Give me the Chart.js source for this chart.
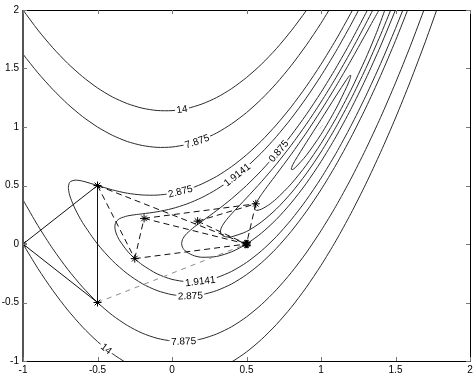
<!DOCTYPE html>
<html>
<head>
<meta charset="utf-8">
<script src="https://cdn.jsdelivr.net/npm/chart.js@4.4.0/dist/chart.umd.min.js"></script>
<style>
  html, body { margin: 0; padding: 0; background: #fff; }
</style>
</head>
<body>
<canvas id="contourChart" width="476" height="376"></canvas>
<script>
// contour lines of f(x,y) as [x, y] points
const level14Upper = [[-1,2.0],[-0.9,1.829],[-0.8,1.677],[-0.7,1.544],[-0.6,1.430],[-0.5,1.334],[-0.4,1.257],[-0.3,1.200],[-0.2,1.161],[-0.1,1.141],[0,1.140],[0.1,1.158],[0.2,1.196],[0.3,1.252],[0.4,1.328],[0.5,1.423],[0.6,1.536],[0.7,1.669],[0.8,1.822],[0.9,1.993],[1.0,2.183]];
const level14Lower = [[-1,0],[-0.9,-0.209],[-0.8,-0.397],[-0.7,-0.564],[-0.6,-0.710],[-0.5,-0.834],[-0.4,-0.937],[-0.3,-1.020],[-0.2,-1.081],[0,-1.140],[0.2,-1.116],[0.3,-1.072],[0.4,-1.008],[0.5,-0.923],[0.6,-0.816],[0.7,-0.689],[0.8,-0.542],[0.9,-0.373],[1.0,-0.183],[1.1,0.027],[1.2,0.259],[1.3,0.511],[1.4,0.784],[1.5,1.077],[1.6,1.392],[1.7,1.728],[1.8,2.084]];
const level7875Upper = [[-1,1.6225],[-0.9,1.463],[-0.8,1.321],[-0.7,1.196],[-0.6,1.089],[-0.5,1.0],[-0.4,0.929],[-0.3,0.876],[-0.2,0.842],[-0.1,0.826],[0,0.829],[0.1,0.851],[0.2,0.891],[0.3,0.949],[0.4,1.027],[0.5,1.123],[0.6,1.238],[0.7,1.372],[0.8,1.525],[0.9,1.697],[1.0,1.887],[1.1,2.097]];
const level7875Lower = [[-1,0.3775],[-0.9,0.157],[-0.8,-0.041],[-0.7,-0.216],[-0.6,-0.369],[-0.5,-0.5],[-0.4,-0.609],[-0.3,-0.696],[-0.2,-0.762],[-0.1,-0.806],[0,-0.829],[0.1,-0.831],[0.2,-0.811],[0.3,-0.769],[0.4,-0.707],[0.5,-0.623],[0.6,-0.518],[0.7,-0.392],[0.8,-0.245],[0.9,-0.077],[1.0,0.113],[1.1,0.323],[1.2,0.555],[1.3,0.808],[1.4,1.082],[1.5,1.377],[1.6,1.693],[1.7,2.031]];
const level2875 = [[1.25,2.093],[1.2,1.972],[1.1,1.745],[1.0,1.536],[0.9,1.345],[0.8,1.172],[0.7,1.018],[0.6,0.881],[0.5,0.762],[0.4,0.6615],[0.3,0.578],[0.2,0.513],[0.1,0.464],[0,0.433],[-0.1,0.418],[-0.2,0.419],[-0.3,0.434],[-0.4,0.4625],[-0.5,0.5],[-0.6,0.5375],[-0.65,0.546],[-0.68,0.535],[-0.69,0.5196],[-0.6956,0.4839],
  [-0.69,0.4326],[-0.68,0.390],[-0.65,0.299],[-0.6,0.1825],[-0.5,0],[-0.4,-0.1425],[-0.3,-0.254],[-0.2,-0.339],[-0.1,-0.398],[0,-0.433],[0.1,-0.444],[0.2,-0.433],[0.3,-0.398],[0.4,-0.3415],[0.5,-0.262],[0.6,-0.161],[0.7,-0.038],[0.8,0.108],[0.9,0.275],[1.0,0.464],[1.1,0.675],[1.2,0.908],[1.3,1.162],[1.4,1.439],[1.5,1.738],[1.6,2.059]];
const level19141 = [[1.26,2.0173],[1.2,1.8729],[1.1,1.6464],[1.0,1.4375],[0.9,1.2464],[0.8,1.0729],[0.7,0.9171],[0.6,0.7788],[0.5,0.6579],[0.4,0.5542],[0.3,0.4674],[0.2,0.3969],[0.1,0.3423],[0,0.3023],[-0.1,0.2753],[-0.2,0.2577],[-0.25,0.25],[-0.3,0.2397],[-0.35,0.2182],[-0.37,0.1979],[-0.38,0.1755],[-0.3835,0.1471],
  [-0.38,0.1133],[-0.37,0.0759],[-0.35,0.0268],[-0.3,-0.0597],[-0.25,-0.125],[-0.2,-0.1777],[-0.1,-0.2553],[0,-0.3023],[0.1,-0.3223],[0.2,-0.3169],[0.3,-0.2874],[0.4,-0.2342],[0.5,-0.1579],[0.6,-0.0588],[0.7,0.0629],[0.8,0.2071],[0.9,0.3736],[1.0,0.5625],[1.1,0.7736],[1.2,1.0071],[1.3,1.2629],[1.4,1.5412],[1.5,1.8421],[1.55,2.0011]];
const level0875 = [[1.32,2.0204],[1.3,1.9702],[1.2,1.729],[1.1,1.5041],[1.0,1.2958],[0.9,1.1041],[0.8,0.929],[0.7,0.7702],[0.6,0.6274],[0.5,0.5],[0.4,0.3869],[0.3,0.2862],[0.2,0.1933],[0.15,0.146],[0.1,0.0906],[0.08,0.0599],[0.07,0.0367],[0.0646,0.0042],
  [0.07,-0.0269],[0.08,-0.0471],[0.1,-0.0706],[0.15,-0.101],[0.2,-0.1133],[0.3,-0.1062],[0.4,-0.0669],[0.5,0],[0.6,0.0926],[0.7,0.2098],[0.8,0.351],[0.9,0.5159],[1.0,0.7042],[1.1,0.9159],[1.2,1.151],[1.3,1.4098],[1.4,1.6926],[1.5,2.0]];
const level0456 = [[1.35,2.0051],[1.3,1.8813],[1.2,1.644],[1.1,1.4212],[1.0,1.2135],[0.9,1.0212],[0.8,0.844],[0.7,0.6813],[0.6,0.532],[0.5,0.3935],[0.4,0.258],[0.36,0.1977],[0.34,0.1608],[0.33,0.1355],[0.3247,0.1054],
  [0.33,0.0823],[0.34,0.0704],[0.36,0.0615],[0.4,0.062],[0.5,0.1065],[0.6,0.188],[0.7,0.2987],[0.8,0.436],[0.9,0.5988],[1.0,0.7865],[1.1,0.9988],[1.2,1.236],[1.3,1.4987],[1.4,1.788],[1.45,1.9433],[1.47,2.0076]];
const level0199 = [[1.39,2.0006],[1.38,1.9783],[1.35,1.91],[1.3,1.7944],[1.2,1.5661],[1.1,1.3475],[1.0,1.1411],[0.9,0.9475],[0.8,0.7661],[0.7,0.5944],[0.65,0.51],[0.6,0.4224],[0.57,0.3624],[0.56,0.3368],[0.5539,0.3068],
  [0.56,0.2904],[0.57,0.2874],[0.6,0.2976],[0.65,0.335],[0.7,0.3856],[0.8,0.5139],[0.9,0.6725],[1.0,0.8589],[1.1,1.0725],[1.2,1.3139],[1.3,1.5856],[1.35,1.735],[1.38,1.8305],[1.42,1.9689],[1.43,2.0074]];
const level004 = [[0.8,0.64],[0.8068,0.6673],[0.8268,0.7152],[0.9,0.8647],[1,1.0632],[1.1,1.2647],[1.1732,1.408],[1.1932,1.4401],[1.2,1.44],[1.1932,1.4073],[1.1732,1.3448],[1.1,1.1553],[1,0.9368],[0.9,0.7553],[0.8268,0.652],[0.8068,0.6345],[0.8,0.64]];

// contour labels: text, position on the line, angle in degrees
const labelText = ["14", "7.875", "2.875", "1.9141", "0.875", "1.9141", "2.875", "7.875", "14"];
const labelX = [0.067, 0.168, 0.056, 0.436, 0.715, 0.19, 0.123, 0.078, -0.441];
const labelY = [1.152, 0.878, 0.450, 0.5915, 0.794, -0.3175, -0.442, -0.831, -0.895];
const labelAngle = [-9.6, -18.8, -14, -38, -50, -6.8, -2.5, -2, 38.5];

// simplex vertices
const A0 = [-1, 0], A = [-0.5, 0.5], G = [-0.5, -0.5], E = [0.5, 0];
const C = [-0.25, -0.125], B = [-0.1875, 0.21875], F = [0.5625, 0.34375], D = [0.171875, 0.1953125];
const simplexPoints = [A0, A, G, E, C, B, F, D];
const solidEdges = [[A0, A], [A0, G], [A, G]];
const dashedEdges = [[A, E], [A, C], [C, E], [C, B], [B, E], [B, F], [F, E], [D, F], [D, E]];
const greyEdges = [[G, E]];

const xTicks = [-1, -0.5, 0, 0.5, 1, 1.5, 2];
const yTicks = [-1, -0.5, 0, 0.5, 1, 1.5, 2];

const toXY = (arr) => arr.map((p) => ({ x: p[0], y: p[1] }));

const datasets = [];
[level14Upper, level14Lower, level7875Upper, level7875Lower, level2875, level19141, level0875, level0456, level0199, level004].forEach((line) => {
  datasets.push({
    data: toXY(line),
    showLine: true,
    borderColor: "#2a2a2a",
    borderWidth: 1,
    pointRadius: 0,
    tension: 0.25,
    order: 5,
  });
});
solidEdges.forEach((e) => {
  datasets.push({ data: toXY(e), showLine: true, borderColor: "#111", borderWidth: 1, pointRadius: 0, order: 1, simplex: true });
});
dashedEdges.forEach((e) => {
  datasets.push({ data: toXY(e), showLine: true, borderColor: "#111", borderWidth: 1, borderDash: [6, 4], pointRadius: 0, order: 1, simplex: true });
});
greyEdges.forEach((e) => {
  datasets.push({ data: toXY(e), showLine: true, borderColor: "#8a8a8a", borderWidth: 1, borderDash: [5, 5], pointRadius: 0, order: 1, simplex: true });
});
datasets.push({
  data: toXY(simplexPoints),
  showLine: false,
  pointStyle: "star",
  pointRadius: 4,
  borderColor: "#000",
  borderWidth: 1,
  order: 0,
  simplex: true,
});
datasets.push({
  data: toXY([E]),
  showLine: false,
  pointStyle: "star",
  pointRadius: 4.5,
  pointRotation: 22,
  borderColor: "#000",
  borderWidth: 1.5,
  order: 0,
  simplex: true,
});

// inline contour labels, drawn after the contours but before the simplex
let labelsDone = false;
const contourLabels = {
  id: "contourLabels",
  beforeDatasetsDraw() { labelsDone = false; },
  beforeDatasetDraw(chart, args) {
    if (labelsDone || !chart.data.datasets[args.index].simplex) return;
    labelsDone = true;
    const ctx = chart.ctx;
    const xs = chart.scales.x, ys = chart.scales.y;
    ctx.save();
    ctx.font = "10px 'Liberation Sans', Arial, sans-serif";
    ctx.textAlign = "center";
    ctx.textBaseline = "middle";
    labelText.forEach((t, i) => {
      const px = xs.getPixelForValue(labelX[i]);
      const py = ys.getPixelForValue(labelY[i]);
      ctx.save();
      ctx.translate(px, py);
      ctx.rotate((labelAngle[i] * Math.PI) / 180);
      const w = ctx.measureText(t).width;
      ctx.fillStyle = "#fff";
      ctx.fillRect(-w / 2 - 1.5, -4.5, w + 3, 9);
      ctx.fillStyle = "#000";
      ctx.fillText(t, 0, 0.5);
      ctx.restore();
    });
    // tiny label near the minimum
    ctx.save();
    ctx.translate(xs.getPixelForValue(0.996), ys.getPixelForValue(1.005));
    ctx.rotate(-50 * Math.PI / 180);
    ctx.font = "5px 'Liberation Sans', Arial, sans-serif";
    ctx.fillStyle = "#555";
    ctx.fillText("....", 0, 0);
    ctx.restore();
    ctx.restore();
  },
};

// box and inward ticks like the original figure
const boxTicks = {
  id: "boxTicks",
  afterDraw(chart) {
    const ctx = chart.ctx;
    const a = chart.chartArea;
    const xs = chart.scales.x, ys = chart.scales.y;
    ctx.save();
    ctx.strokeStyle = "#000";
    ctx.lineWidth = 1;
    ctx.beginPath();
    ctx.moveTo(a.left, a.top + 0.5);
    ctx.lineTo(a.right + 0.5, a.top + 0.5);
    ctx.lineTo(a.right + 0.5, a.bottom + 0.5);
    ctx.lineTo(a.left, a.bottom + 0.5);
    ctx.stroke();
    ctx.strokeStyle = "#555";
    ctx.lineWidth = 2;
    ctx.beginPath();
    ctx.moveTo(a.left, a.top);
    ctx.lineTo(a.left, a.bottom + 1);
    ctx.stroke();
    ctx.strokeStyle = "#777";
    ctx.lineWidth = 1;
    ctx.beginPath();
    xTicks.forEach((v) => {
      const px = Math.round(xs.getPixelForValue(v)) + 0.5;
      ctx.moveTo(px, a.bottom);
      ctx.lineTo(px, a.bottom - 4);
      ctx.moveTo(px, a.top);
      ctx.lineTo(px, a.top + 4);
    });
    yTicks.forEach((v) => {
      const py = Math.round(ys.getPixelForValue(v)) + 0.5;
      ctx.moveTo(a.left, py);
      ctx.lineTo(a.left + 4, py);
      ctx.moveTo(a.right, py);
      ctx.lineTo(a.right - 4, py);
    });
    ctx.stroke();
    ctx.restore();
  },
};

const tickFont = { family: "'Liberation Sans', Arial, sans-serif", size: 10 };

new Chart(document.getElementById("contourChart").getContext("2d"), {
  type: "scatter",
  data: { datasets: datasets },
  options: {
    responsive: false,
    animation: false,
    devicePixelRatio: 1,
    layout: { padding: { top: 10, right: 6, left: 0, bottom: 0 } },
    plugins: { legend: { display: false }, tooltip: { enabled: false } },
    scales: {
      x: {
        type: "linear",
        min: -1,
        max: 2,
        afterBuildTicks: (s) => { s.ticks = xTicks.map((v) => ({ value: v })); },
        ticks: { font: tickFont, color: "#000", padding: 3, maxRotation: 0, callback: (v) => String(v) },
        grid: { display: false, drawTicks: false },
        border: { display: false },
        afterFit: (s) => { s.height = 15; },
      },
      y: {
        type: "linear",
        min: -1,
        max: 2,
        afterBuildTicks: (s) => { s.ticks = yTicks.map((v) => ({ value: v })); },
        ticks: { font: tickFont, color: "#000", padding: 4, callback: (v) => String(v) },
        grid: { display: false, drawTicks: false },
        border: { display: false },
        afterFit: (s) => { s.width = 23; },
      },
    },
  },
  plugins: [contourLabels, boxTicks],
});
</script>
</body>
</html>
